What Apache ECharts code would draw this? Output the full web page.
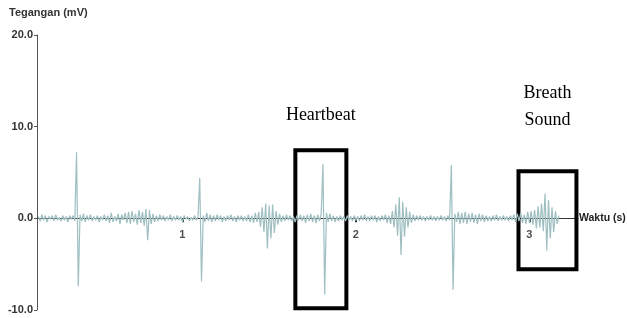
<!DOCTYPE html>
<html>
<head>
<meta charset="utf-8">
<script src="https://cdn.jsdelivr.net/npm/echarts@6/dist/echarts.min.js"></script>
<style>
  html, body { margin: 0; padding: 0; background: #fff; }
  #chart { width: 627px; height: 318px; }
</style>
</head>
<body>
<div id="chart"></div>
<script>
// sampling grid of the recording (seconds)
var t0 = 0.17
var dt = 0.01

// voltage samples in mV
var tegangan = [
  0.2, -0.3, 0.4, -0.2, 0.3, -0.4, 0.2, -0.1, 0.3, -0.3,
  0.4, -0.2, 0.1, -0.3, 0.3, -0.2, 0.2, -0.4, 0.3, -0.1,
  0.3, -0.3, 7.2, -7.4, 0.4, -0.3, 0.5, -0.4, 0.3, -0.2,
  0.4, -0.3, 0.2, -0.2, 0.3, -0.4, 0.2, -0.2, 0.4, -0.3,
  0.3, -0.5, 0.6, -0.4, 0.2, -0.3, 0.5, -0.6, 0.4, -0.2,
  0.6, -0.5, 0.7, -0.6, 0.8, -0.4, 0.5, -0.7, 0.9, -0.5,
  0.7, -0.8, 1.0, -2.4, 0.9, -0.6, 0.5, -0.4, 0.3, -0.3,
  0.4, -0.2, 0.3, -0.3, 0.2, -0.2, 0.4, -0.3, 0.2, -0.2,
  0.3, -0.2, 0.2, -0.4, 0.3, -0.1, 0.2, -0.3, 0.1, -0.2,
  0.3, -0.2, 0.2, 4.4, -6.9, 0.3, -0.4, 0.6, -0.3, 0.4,
  -0.4, 0.3, -0.3, 0.4, -0.2, 0.3, -0.4, 0.2, -0.3, 0.3,
  -0.2, 0.4, -0.3, 0.2, -0.4, 0.3, -0.2, 0.3, -0.3, 0.2,
  -0.3, 0.4, -0.4, 0.3, -0.5, 0.6, -0.4, 0.7, -0.9, 1.2,
  -1.5, 1.6, -3.3, 1.4, -2.2, 1.5, -1.6, 0.8, -0.7, 0.5,
  -0.4, 0.3, -0.3, 0.4, -0.2, 0.3, -0.3, 0.2, -0.4, 0.3,
  -0.2, 0.4, -0.3, 0.3, -0.5, 0.4, -0.3, 0.5, -0.4, 0.3,
  -0.5, 0.4, -0.3, 0.5, 5.9, -8.3, 0.6, -0.4, 0.5, -0.3,
  0.3, -0.4, 0.2, -0.3, 0.3, -0.2, 0.2, -0.3, 0.3, -0.2,
  0.2, -0.3, 0.3, -0.2, 0.2, -0.3, 0.3, -0.2, 0.4, -0.3,
  0.2, -0.3, 0.3, -0.2, 0.3, -0.4, 0.2, -0.3, 0.3, -0.2,
  0.4, -0.5, 0.3, -0.6, 0.8, -1.0, 1.5, -1.9, 2.3, -4.0,
  1.8, -2.0, 1.2, -1.0, 0.7, -0.5, 0.4, -0.3, 0.3, -0.2,
  0.3, -0.2, 0.2, -0.3, 0.2, -0.2, 0.3, -0.2, 0.2, -0.3,
  0.2, -0.2, 0.3, -0.2, 0.2, -0.3, 0.3, -0.2, 5.8, -7.8,
  0.5, -0.4, 0.7, -0.6, 0.6, -0.5, 0.7, -0.6, 0.5, -0.4,
  0.6, -0.5, 0.4, -0.6, 0.5, -0.3, 0.4, -0.4, 0.3, -0.3,
  0.2, -0.3, 0.3, -0.2, 0.4, -0.3, 0.2, -0.2, 0.3, -0.2,
  0.2, -0.3, 0.3, -0.2, 0.4, -0.4, 0.5, -0.3, 0.6, -0.5,
  0.4, -0.6, 0.7, -0.5, 0.8, -0.7, 0.9, -1.1, 1.3, -1.0,
  1.6, -1.4, 2.7, -3.5, 2.0, -2.2, 1.2, -1.5, 0.8, -0.6,
  0.3
]

var xTicks = [1, 2, 3]

// highlighted regions: [tStart, tEnd, vTop, vBottom]
var heartbeatBox = [1.651, 1.945, 7.42, -9.81]
var breathBox    = [2.937, 3.271, 5.13, -5.56]

var points = tegangan.map(function(v, i) {
  return [+(t0 + i * dt).toFixed(3), v]
})

// tick labels sit just under the zero line
var tickLabelPoints = xTicks.map(function(t) { return [t, 0] })

var chart = echarts.init(document.getElementById('chart'), null, { renderer: 'canvas' })

function box(b, text, dist) {
  return [
    {
      coord: [b[0], b[2]],
      label: { show: true, formatter: text, distance: dist }
    },
    { coord: [b[1], b[3]] }
  ]
}

chart.setOption({
  animation: false,
  backgroundColor: '#fff',
  title: {
    text: 'Tegangan (mV)',
    left: 4,
    top: 2,
    textStyle: { fontFamily: 'Liberation Sans', fontSize: 11, fontWeight: 'bold', color: '#333' }
  },
  grid: { left: 37, right: 49, top: 35, bottom: 8, containLabel: false, outerBoundsMode: 'none' },
  xAxis: {
    type: 'value',
    min: 0.162,
    max: 3.28,
    name: 'Waktu (s)',
    nameLocation: 'end',
    nameGap: 1,
    nameTextStyle: { fontFamily: 'Liberation Sans', fontSize: 10.5, fontWeight: 'bold', color: '#222' },
    axisLine: { onZero: true, lineStyle: { color: '#333', width: 1 } },
    axisTick: { show: true, customValues: xTicks, length: 4, lineStyle: { color: '#333', width: 2 } },
    axisLabel: { show: false },
    splitLine: { show: false }
  },
  yAxis: {
    type: 'value',
    min: -10,
    max: 20,
    interval: 10,
    axisLine: { show: true, onZero: false, lineStyle: { color: '#555', width: 1 } },
    axisTick: { show: true, length: 3, lineStyle: { color: '#555' } },
    axisLabel: {
      margin: 4,
      fontFamily: 'Liberation Sans',
      fontSize: 11,
      fontWeight: 'bold',
      color: '#333',
      formatter: function(v) { return v.toFixed(1) }
    },
    splitLine: { show: false }
  },
  series: [{
    type: 'line',
    data: points,
    showSymbol: false,
    z: 3,
    lineStyle: { color: '#9fbfc2', width: 1.2 },
    markArea: {
      silent: true,
      itemStyle: { color: 'rgba(0,0,0,0)', borderColor: '#000', borderWidth: 4 },
      label: {
        position: 'top',
        color: '#000',
        fontFamily: 'Liberation Serif',
        fontSize: 18,
        lineHeight: 27,
        align: 'center'
      },
      data: [
        box(heartbeatBox, 'Heartbeat', 20),
        box(breathBox, 'Breath\nSound', 36)
      ]
    }
  }, {
    type: 'scatter',
    data: tickLabelPoints,
    symbolSize: 0,
    silent: true,
    z: 4,
    label: {
      show: true,
      position: 'bottom',
      distance: 11,
      fontFamily: 'Liberation Sans',
      fontSize: 11,
      fontWeight: 'bold',
      color: '#222',
      formatter: function(p) { return String(p.value[0]) }
    }
  }]
})

window.addEventListener('resize', function() { chart.resize() })
</script>
</body>
</html>
